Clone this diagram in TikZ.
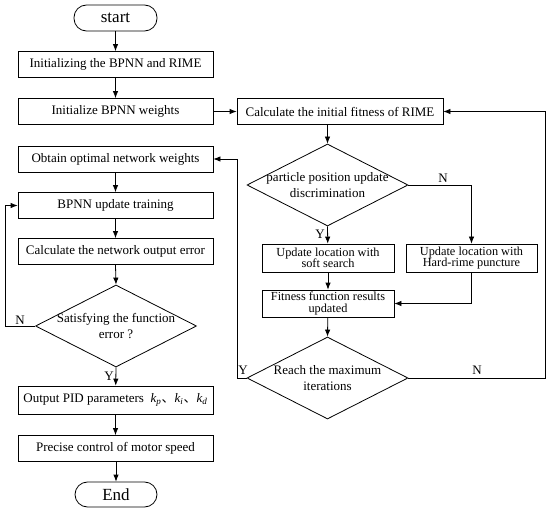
\documentclass[tikz,border=0pt]{standalone}
\usepackage{fontspec}
\setmainfont{Liberation Serif}
\newfontfamily\cjk{Noto Sans CJK SC}
\usetikzlibrary{shapes.geometric,arrows.meta}
\newcommand\kgain[1]{\textit{k}\textsubscript{\textit{#1}}}

\begin{document}
\begin{tikzpicture}[x=1pt, y=-1pt,
	box/.style={draw=black, shape=rectangle, inner sep=0pt, minimum width=195pt, minimum height=26pt, font=\fontsize{13}{15}\selectfont},
	term/.style={draw=black, shape=rectangle, rounded corners=12.5pt, inner sep=0pt, minimum width=83pt, minimum height=26pt, font=\fontsize{17}{19}\selectfont},
	smallbox/.style={draw=black, shape=rectangle, inner sep=0pt, minimum width=132pt, minimum height=28pt, align=center, font=\fontsize{12.3}{11.5}\selectfont},
	decision/.style={draw=black, shape=diamond, aspect=2, inner sep=0pt, minimum width=161pt, minimum height=82pt},
	dtext/.style={align=center, inner sep=0pt, font=\fontsize{13}{16}\selectfont},
	yn/.style={inner sep=0pt, font=\fontsize{13}{15}\selectfont},
	flow/.style={line width=0.8pt, -{Latex[length=7pt,width=5.5pt]}},
	line width=0.8pt]
		\useasboundingbox (0, 0) rectangle (550, 511);
		% left column
		\node [term] (0) at (115.5, 18) {start};
		\node [box] (1) at (115.5, 64.5) {Initializing the BPNN and RIME};
		\node [box] (2) at (115.5, 111.5) {Initialize BPNN weights};
		\node [box] (3) at (115.5, 159) {Obtain optimal network weights};
		\node [box] (4) at (115.5, 205.5) {BPNN update training};
		\node [box] (5) at (115.5, 251.5) {Calculate the network output error};
		\node [decision, label={[dtext]center:Satisfying the function\\error ?}] (6) at (116, 326) {};
		\node [box, minimum height=28pt] (7) at (115.5, 400) {Output PID parameters\ \ \kgain{p}{\cjk 、}\kgain{i}{\cjk 、}\kgain{d}};
		\node [box] (8) at (115.5, 448.5) {Precise control of motor speed};
		\node [term, minimum width=82pt, minimum height=25pt] (9) at (116, 494.5) {End};
		% right column
		\node [box, minimum width=206pt] (10) at (340, 111.5) {Calculate the initial fitness of RIME};
		\node [decision, label={[dtext]center:particle position update\\discrimination}] (11) at (327.5, 185) {};
		\node [smallbox] (12) at (328, 258) {Update location with\\soft search};
		\node [smallbox, minimum width=131pt] (13) at (471.5, 258) {Update location with\\Hard-rime puncture};
		\node [smallbox, minimum height=27pt] (14) at (328, 303.5) {Fitness function results\\updated};
		\node [decision, label={[dtext]center:Reach the maximum\\iterations}] (15) at (327.5, 378) {};
		% corners of the loops
		\coordinate (16) at (5, 326);
		\coordinate (17) at (237, 378);
		\coordinate (18) at (545, 378);
		% Y / N
		\node [yn] (19) at (20, 320) {N};
		\node [yn] (20) at (109, 376) {Y};
		\node [yn] (21) at (443, 178) {N};
		\node [yn] (22) at (320, 234) {Y};
		\node [yn] (23) at (243, 370) {Y};
		\node [yn] (24) at (477, 370) {N};
		% connectors
		\draw [flow] (0) -- (1);
		\draw [flow] (1) -- (2);
		\draw [flow] (2) -- (10);
		\draw [flow] (3) -- (4);
		\draw [flow] (4) -- (5);
		\draw [flow] (5.south) -- (6.north);
		\draw [flow] (6.south) -- (7);
		\draw [flow] (7) -- (8);
		\draw [flow] (9.north |- 8.south) -- (9.north);
		\draw [flow] (6.west) -- (16) |- (4.west);
		\draw [flow] (11.north |- 10.south) -- (11.north);
		\draw [flow] (11.south) -- (12);
		\draw [flow] (11.east) -| (13.north);
		\draw [flow] (12) -- (14);
		\draw [flow] (13.south) |- (14.east);
		\draw [flow] (14) -- (15.north);
		\draw [flow] (15.west) -- (17) |- (3.east);
		\draw [flow] (15.east) -- (18) |- (10.east);
\end{tikzpicture}
\end{document}
